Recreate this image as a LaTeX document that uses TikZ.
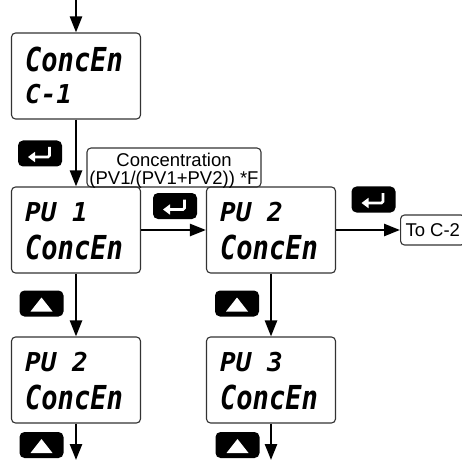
\documentclass[tikz,border=0pt]{standalone}
\usepackage{fontspec}
\setmainfont{Liberation Sans}
\newfontfamily\lcdfont{DejaVu Sans Mono}
\newfontfamily\lcdtall{DejaVu Sans Mono}[FakeStretch=0.82]
\usetikzlibrary{arrows.meta, positioning, calc}
\definecolor{framegray}{HTML}{333333}

\tikzset{
  lcdbox/.style={draw=framegray, line width=1.1pt, rounded corners=4pt,
    minimum width=129pt, minimum height=86pt, inner sep=0pt},
  lcdline/.style={anchor=base west, inner sep=0pt,
    font=\lcdfont\bfseries\itshape\fontsize{26}{26}\selectfont},
  lcdword/.style={anchor=base west, inner sep=0pt,
    font=\lcdtall\bfseries\itshape\fontsize{33}{33}\selectfont},
  keycap/.style={fill=black, rounded corners=5pt, minimum width=44pt,
    minimum height=26pt, inner sep=0pt},
  flow/.style={line width=2.5pt, -{Triangle[length=16pt, width=12pt]}},
  tagbox/.style={draw=framegray, line width=1.1pt, rounded corners=4pt, inner sep=0pt,
    font=\fontsize{18.5}{18}\selectfont},
}

% key icons
\newcommand{\enterkey}[2]{%
  \node[keycap] (#1) at (#2) {};
  \draw[white, line width=2.6pt, rounded corners=1.5pt, -{Triangle[length=7pt, width=10pt]}]
    ($(#1.center)+(9.5,-6.5)$) -- ($(#1.center)+(9.5,3.5)$) -- ($(#1.center)+(-12,3.5)$);
}
\newcommand{\upkey}[2]{%
  \node[keycap] (#1) at (#2) {};
  \fill[white] ($(#1.center)+(0,-6)$) -- ($(#1.center)+(11,8)$) -- ($(#1.center)+(-11,8)$) -- cycle;
}

\begin{document}
\begin{tikzpicture}[x=1pt, y=-1pt]
  \useasboundingbox (0,0) rectangle (462,462);

  % displays
  \node[lcdbox] (conc) at (76,76) {};
  \node[lcdword] (concA) at ($(conc.north west)+(14,39.5)$) {ConcEn};
  \node[lcdline] (concB) at ($(conc.north west)+(14,71)$) {C-1};

  \node[lcdbox] (pvone) at (76,230) {};
  \node[lcdline] (pvoneA) at ($(pvone.north west)+(14,35)$) {PU 1};
  \node[lcdword] (pvoneB) at ($(pvone.north west)+(14,73)$) {ConcEn};

  \node[lcdbox] (pvtwo) at (271,230) {};
  \node[lcdline] (pvtwoA) at ($(pvtwo.north west)+(14,35)$) {PU 2};
  \node[lcdword] (pvtwoB) at ($(pvtwo.north west)+(14,73)$) {ConcEn};

  \node[lcdbox] (nextone) at (76,380) {};
  \node[lcdline] (nextoneA) at ($(nextone.north west)+(14,35)$) {PU 2};
  \node[lcdword] (nextoneB) at ($(nextone.north west)+(14,73)$) {ConcEn};

  \node[lcdbox] (nexttwo) at (271,380) {};
  \node[lcdline] (nexttwoA) at ($(nexttwo.north west)+(14,35)$) {PU 3};
  \node[lcdword] (nexttwoB) at ($(nexttwo.north west)+(14,73)$) {ConcEn};

  % labels
  \node[tagbox, minimum width=174pt, minimum height=39pt] (formula) at (174,167.5) {};
  \node[anchor=north, align=center, inner sep=0pt, font=\fontsize{18.5}{18}\selectfont]
    (formulatext) at ($(formula.north)+(0,5.5)$) {Concentration\\(PV1/(PV1+PV2)) *F};
  \node[tagbox, anchor=west, inner xsep=5pt, minimum height=30pt] (toc) at (400,230) {To C-2};

  % keys
  \enterkey{enterA}{40,153.5}
  \enterkey{enterB}{175,206}
  \enterkey{enterC}{373.5,199.5}
  \upkey{upA}{41.5,303.5}
  \upkey{upB}{237,303.5}
  \upkey{upC}{41.5,445}
  \upkey{upD}{237.5,445}

  % flow
  \coordinate (entry) at (76,0);
  \coordinate (exitA) at (76,460);
  \coordinate (exitB) at (271,460);
  \draw[flow] (entry) -- (conc);
  \draw[flow] (conc) -- (pvone);
  \draw[flow] (pvone) -- (pvtwo);
  \draw[flow] (pvtwo) -- (toc);
  \draw[flow] (pvone) -- (nextone);
  \draw[flow] (pvtwo) -- (nexttwo);
  \draw[flow] (nextone) -- (exitA);
  \draw[flow] (nexttwo) -- (exitB);
\end{tikzpicture}
\end{document}
